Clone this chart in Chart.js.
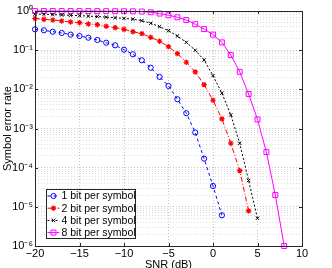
<!DOCTYPE html>
<html lang="en">
<head>
<meta charset="UTF-8" />
<title>Symbol error rate vs SNR</title>
<script src="https://cdn.jsdelivr.net/npm/chart.js@4"></script>
<style>
  html, body { margin: 0; padding: 0; background: #fff; }
  canvas { display: block; }
</style>
</head>
<body>
<canvas id="serChart" width="332" height="268"></canvas>
<script>
// values
const seriesNames = ['1 bit per symbol', '2 bit per symbol', '4 bit per symbol', '8 bit per symbol'];

const snr1 = [-20, -19, -18, -17, -16, -15, -14, -13, -12, -11, -10, -9, -8, -7, -6, -5, -4, -3, -2, -1, 0, 1];
const ser1 = [0.341, 0.322, 0.296, 0.275, 0.249, 0.230, 0.208, 0.182, 0.155, 0.133, 0.103, 0.0786, 0.0552, 0.0356, 0.0207, 0.0122, 0.00559, 0.00246, 7.9e-4, 1.7e-4, 3.4e-5, 6.1e-6];

const snr2 = [-20, -19, -18, -17, -16, -15, -14, -13, -12, -11, -10, -9, -8, -7, -6, -5, -4, -3, -2, -1, 0, 1, 2, 3, 4];
const ser2 = [0.644, 0.614, 0.589, 0.556, 0.524, 0.503, 0.466, 0.447, 0.407, 0.375, 0.341, 0.296, 0.264, 0.213, 0.169, 0.123, 0.0814, 0.0491, 0.0278, 0.0132, 0.00527, 0.00176, 4.2e-4, 8.4e-5, 7.9e-6];

const snr4 = [-20, -19, -18, -17, -16, -15, -14, -13, -12, -11, -10, -9, -8, -7, -6, -5, -4, -3, -2, -1, 0, 1, 2, 3, 4, 5];
const ser4 = [0.838, 0.824, 0.81, 0.79, 0.777, 0.759, 0.741, 0.72, 0.699, 0.675, 0.647, 0.618, 0.566, 0.486, 0.398, 0.314, 0.230, 0.159, 0.0994, 0.0562, 0.0224, 0.0080, 0.00222, 4.2e-4, 4.7e-5, 5.1e-6];

const snr8 = [-20, -19, -18, -17, -16, -15, -14, -13, -12, -11, -10, -9, -8, -7, -6, -5, -4, -3, -2, -1, 0, 1, 2, 3, 4, 5, 6, 7, 8];
const ser8 = [0.998, 0.998, 0.997, 0.997, 0.996, 0.995, 0.994, 0.993, 0.991, 0.989, 0.986, 0.982, 0.97, 0.93, 0.86, 0.78, 0.69, 0.59, 0.46, 0.345, 0.25, 0.158, 0.075, 0.028, 0.0076, 0.0017, 2.5e-4, 2.0e-5, 1.0e-6];

const xTicks = [-20, -15, -10, -5, 0, 5, 10];
const yDecades = [1e-6, 1e-5, 1e-4, 1e-3, 1e-2, 1e-1, 1];

const FONT = "'Liberation Sans', Arial, Helvetica, sans-serif";
const sup = { '-': '\u207B', '0': '\u2070', '1': '\u00B9', '2': '\u00B2', '3': '\u00B3', '4': '\u2074', '5': '\u2075', '6': '\u2076', '7': '\u2077', '8': '\u2078', '9': '\u2079' };

function isDecade(v) {
  const e = Math.log10(v);
  return Math.abs(e - Math.round(e)) < 1e-6;
}
function powLabel(v) {
  const e = String(Math.round(Math.log10(v)));
  return '10' + e.split('').map(c => sup[c]).join('');
}
const pts = (xs, ys) => xs.map((x, i) => ({ x: x, y: ys[i] }));

const styles = [
  { color: '#0000ff', dash: [3, 3], pointStyle: 'circle', radius: 2.6, fill: 'rgba(0,0,0,0)', pw: 1 },
  { color: '#ff0000', dash: [5, 2, 1, 2], pointStyle: 'star', radius: 2.7, fill: '#ff0000', pw: 1.2 },
  { color: '#000000', dash: [2, 2], pointStyle: 'crossRot', radius: 2.4, fill: 'rgba(0,0,0,0)', pw: 1 },
  { color: '#ff00ff', dash: [], pointStyle: 'rect', radius: 3.5, fill: 'rgba(0,0,0,0)', pw: 1 }
];
const seriesData = [pts(snr1, ser1), pts(snr2, ser2), pts(snr4, ser4), pts(snr8, ser8)];

// axes box, inward ticks and the legend inside the plot
const matlabBox = {
  id: 'matlabBox',
  afterDraw(chart) {
    const ctx = chart.ctx;
    const ca = chart.chartArea;
    const xs = chart.scales.x, ys = chart.scales.y;
    ctx.save();
    ctx.strokeStyle = '#262626';
    ctx.lineWidth = 1;
    ctx.setLineDash([]);
    ctx.beginPath();
    xTicks.forEach(t => {
      const px = Math.round(xs.getPixelForValue(t)) + 0.5;
      ctx.moveTo(px, ca.bottom); ctx.lineTo(px, ca.bottom - 3);
      ctx.moveTo(px, ca.top); ctx.lineTo(px, ca.top + 3);
    });
    yDecades.forEach(t => {
      const py = Math.round(ys.getPixelForValue(t)) + 0.5;
      ctx.moveTo(ca.left, py); ctx.lineTo(ca.left + 3, py);
      ctx.moveTo(ca.right, py); ctx.lineTo(ca.right - 3, py);
    });
    ctx.stroke();
    ctx.strokeRect(Math.round(ca.left) + 0.5, Math.round(ca.top) + 0.5,
      Math.round(ca.right - ca.left), Math.round(ca.bottom - ca.top));

    // legend
    const x0 = Math.round(ca.left) + 11.5, y0 = Math.round(ca.bottom) - 56.5;
    const w = 89, h = 49;
    ctx.fillStyle = '#ffffff';
    ctx.fillRect(x0, y0, w, h);
    ctx.strokeStyle = '#262626';
    ctx.strokeRect(x0, y0, w, h);
    ctx.font = '10.5px ' + FONT;
    ctx.textBaseline = 'middle';
    ctx.textAlign = 'left';
    seriesNames.forEach((name, i) => {
      const st = styles[i];
      const y = y0 + 6.5 + i * 12.2;
      ctx.strokeStyle = st.color;
      ctx.lineWidth = 1;
      ctx.setLineDash(st.dash);
      ctx.beginPath();
      ctx.moveTo(x0 + 1, y); ctx.lineTo(x0 + 13, y);
      ctx.stroke();
      ctx.setLineDash([]);
      ctx.fillStyle = st.fill;
      ctx.lineWidth = st.pw;
      Chart.helpers.drawPoint(ctx, { pointStyle: st.pointStyle, radius: st.radius, rotation: 0, borderWidth: st.pw }, x0 + 7, y);
      ctx.fillStyle = '#000000';
      ctx.fillText(name, x0 + 15, y + 0.5);
    });
    ctx.restore();
  }
};

new Chart(document.getElementById('serChart'), {
  type: 'line',
  data: {
    datasets: seriesNames.map((name, i) => ({
      label: name,
      data: seriesData[i],
      borderColor: styles[i].color,
      borderWidth: 1,
      borderDash: styles[i].dash,
      pointStyle: styles[i].pointStyle,
      pointRadius: styles[i].radius,
      pointBorderColor: styles[i].color,
      pointBackgroundColor: styles[i].fill,
      pointBorderWidth: styles[i].pw,
      tension: 0,
      fill: false,
      clip: false
    }))
  },
  options: {
    responsive: false,
    animation: false,
    layout: { padding: { top: 11, right: 30, left: 0, bottom: 0 } },
    plugins: { legend: { display: false }, tooltip: { enabled: false } },
    scales: {
      x: {
        type: 'linear',
        min: -20,
        max: 10,
        afterBuildTicks: s => { s.ticks = xTicks.map(v => ({ value: v })); },
        afterFit: s => { s.height = 22; },
        ticks: {
          color: '#000',
          padding: 1,
          autoSkip: false,
          maxRotation: 0,
          font: { family: FONT, size: 11 },
          callback: v => String(v).replace('-', '\u2212')
        },
        grid: { color: '#c4c4c4', drawTicks: false, lineWidth: 1 },
        border: { display: false, dash: [1, 2] },
        title: {
          display: true,
          text: 'SNR (dB)',
          color: '#000',
          font: { family: FONT, size: 11 },
          padding: { top: 0, bottom: -4 }
        }
      },
      y: {
        type: 'logarithmic',
        min: 1e-6,
        max: 1,
        afterBuildTicks: s => {
          const t = [];
          yDecades.forEach((d, i) => {
            t.push({ value: d });
            if (i < yDecades.length - 1) {
              for (let m = 2; m <= 9; m++) t.push({ value: d * m });
            }
          });
          s.ticks = t;
        },
        afterFit: s => { s.width = 35; },
        ticks: {
          color: '#000',
          padding: 2,
          autoSkip: false,
          font: { family: FONT, size: 11 },
          callback: v => (isDecade(v) ? powLabel(v) : '')
        },
        grid: {
          color: c => (c.tick && isDecade(c.tick.value) ? '#c4c4c4' : '#dddddd'),
          drawTicks: false,
          lineWidth: 1
        },
        border: { display: false, dash: [1, 2] },
        title: {
          display: true,
          text: 'Symbol error rate',
          color: '#000',
          font: { family: FONT, size: 11 },
          padding: { top: 1, bottom: 0 }
        }
      }
    }
  },
  plugins: [matlabBox]
});
</script>
</body>
</html>
